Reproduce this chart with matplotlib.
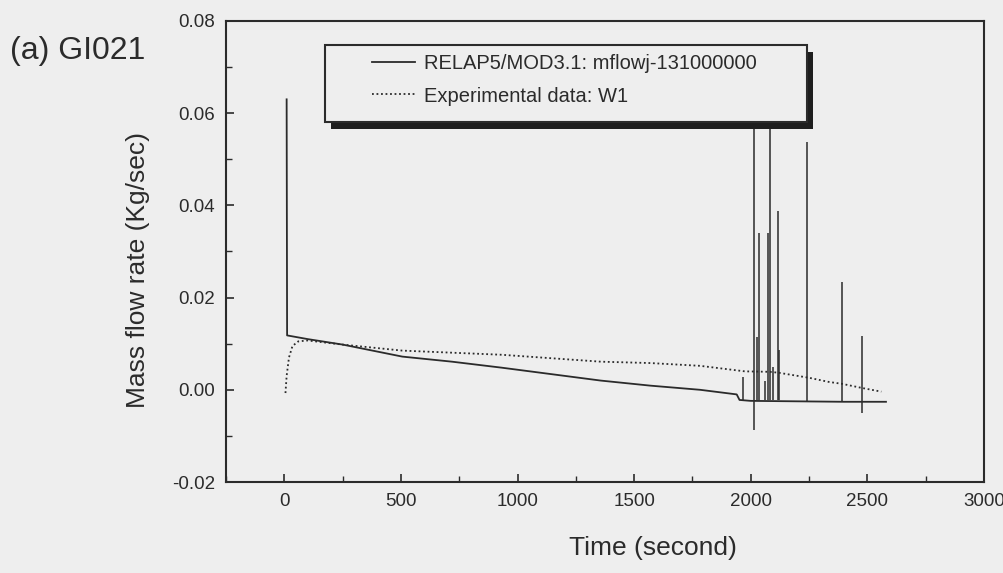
import matplotlib
matplotlib.use("Agg")
import matplotlib.pyplot as plt
from matplotlib.patches import Rectangle
from matplotlib.ticker import MultipleLocator, FormatStrFormatter

plt.rcParams["font.family"] = ["Liberation Sans", "DejaVu Sans"]
plt.rcParams["axes.unicode_minus"] = False

# RELAP5 calculation (solid)
relap_time = [10, 12, 100, 251, 506, 719, 932, 1357, 1570, 1783, 1940, 1952, 2000, 2200, 2400, 2580]
relap_flow = [0.063, 0.0118, 0.0110, 0.0098, 0.0072, 0.0061, 0.0048, 0.0020, 0.0009, 0.0000,
              -0.0010, -0.0022, -0.0024, -0.0025, -0.0026, -0.0026]

# spikes in the calculation near the end of the transient
spike_time = [1967, 2014, 2027, 2035, 2060, 2075, 2081, 2095, 2116, 2121, 2240, 2390, 2478]
spike_low = [-0.0022, -0.0087, -0.0022, -0.0022, -0.0022, -0.0022, -0.0022, -0.0022,
             -0.0022, -0.0022, -0.0024, -0.0025, -0.0050]
spike_high = [0.0028, 0.066, 0.0115, 0.034, 0.002, 0.034, 0.066, 0.005,
              0.0387, 0.0087, 0.0537, 0.0233, 0.0117]

# experimental data W1 (dotted)
exp_time = [5, 10, 20, 35, 60, 100, 251, 506, 932, 1357, 1570, 1783, 1975, 2081, 2120,
            2251, 2336, 2391, 2477, 2560]
exp_flow = [-0.0007, 0.003, 0.007, 0.0095, 0.0105, 0.0107, 0.0098, 0.0085, 0.0076, 0.0061,
            0.0058, 0.0052, 0.0040, 0.0039, 0.0037, 0.0026, 0.0017, 0.0013, 0.0004, -0.0004]

ink = "#2b2b2b"
paper = "#eeeeee"

fig = plt.figure(figsize=(10.04, 5.73), dpi=100, facecolor=paper)
ax = fig.add_axes([0.2251, 0.1588, 0.7549, 0.8046], facecolor=paper)

ax.plot(relap_time, relap_flow, color=ink, lw=1.3, label="RELAP5/MOD3.1: mflowj-131000000")
ax.vlines(spike_time, spike_low, spike_high, color=ink, lw=1.1)
ax.plot(exp_time, exp_flow, color=ink, lw=1.3, ls=(0, (1, 1.5)), label="Experimental data: W1")

ax.set_xlim(-250, 3000)
ax.set_ylim(-0.02, 0.08)
ax.xaxis.set_major_locator(MultipleLocator(500))
ax.xaxis.set_minor_locator(MultipleLocator(250))
ax.yaxis.set_major_locator(MultipleLocator(0.02))
ax.yaxis.set_minor_locator(MultipleLocator(0.01))
ax.yaxis.set_major_formatter(FormatStrFormatter("%.2f"))
ax.tick_params(which="both", direction="in", colors=ink, labelsize=13.5, top=False, right=False)
ax.tick_params(which="major", length=6, width=1.2, pad=8)
ax.tick_params(which="minor", length=4, width=1.0)
for s in ax.spines.values():
    s.set_color(ink)
    s.set_linewidth(1.5)

ax.set_xlabel("Time (second)", fontsize=19, color=ink)
ax.set_ylabel("Mass flow rate (Kg/sec)", fontsize=19, color=ink)
ax.xaxis.set_label_coords(0.563, -0.118)
ax.yaxis.set_label_coords(-0.10, 0.46)

# legend box with a heavy drop shadow, as in the original report figure
x0, y0, w, h = 0.1306, 0.781, 0.636, 0.167
sx, sy = 6 / 758, -7 / 461
ax.add_patch(Rectangle((x0 + sx, y0 + sy), w, h, transform=ax.transAxes,
                       facecolor="#1e1e1e", edgecolor="none", zorder=5))
ax.add_patch(Rectangle((x0, y0), w, h, transform=ax.transAxes,
                       facecolor=paper, edgecolor=ink, lw=1.5, zorder=6))
leg = ax.legend(loc="center", bbox_to_anchor=(0.4466, 0.872), fontsize=14.5,
                frameon=False, handlelength=2.15, handletextpad=0.45,
                labelspacing=0.65, borderpad=0)
leg.set_zorder(7)
for t in leg.get_texts():
    t.set_color(ink)

fig.text(0.01, 0.911, "(a) GI021", fontsize=23, color=ink, va="center")

fig.savefig("out.png", dpi=100, facecolor=paper)
